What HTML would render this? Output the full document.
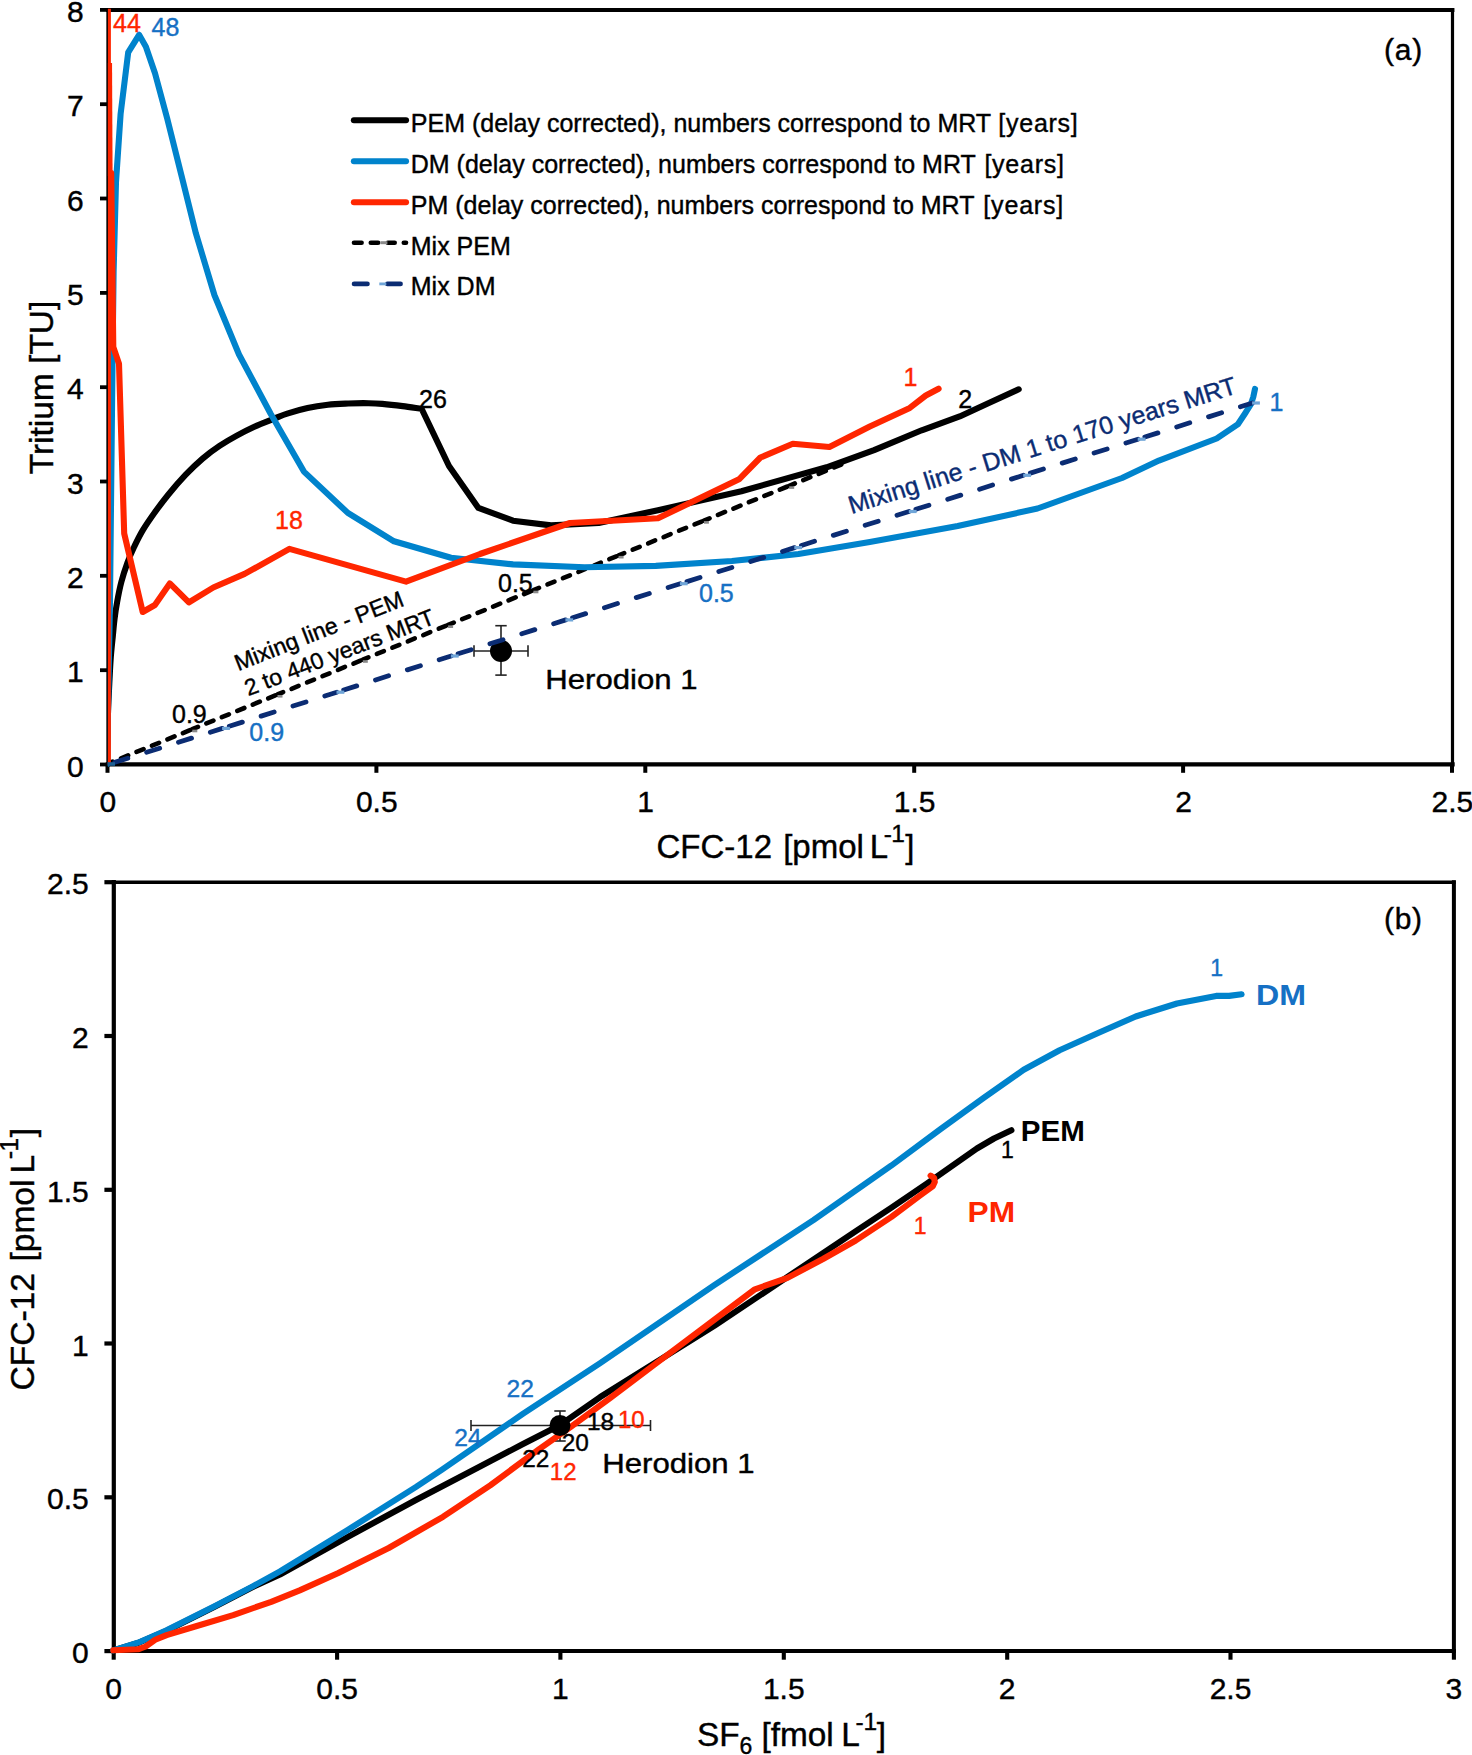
<!DOCTYPE html>
<html lang="en"><head><meta charset="utf-8"><title>Tracer plots</title>
<style>html,body{margin:0;padding:0;background:#fff}svg{display:block}text{stroke-width:0.4px}</style></head>
<body>
<svg width="1472" height="1755" viewBox="0 0 1472 1755" font-family="'Liberation Sans', Arial, sans-serif">
<rect width="1472" height="1755" fill="#fff"/>
<defs><clipPath id="clipM"><rect x="107.9" y="400" width="737" height="368"/></clipPath><clipPath id="clipA"><rect x="107.9" y="8.8" width="1346" height="760"/></clipPath></defs>
<g id="plotA">
<g stroke="#000" stroke-linecap="square">
<line x1="107.9" y1="10" x2="1452.5" y2="10" stroke-width="3.8"/>
<line x1="107.9" y1="764.4" x2="1452.5" y2="764.4" stroke-width="4.3"/>
<line x1="107.9" y1="10" x2="107.9" y2="764.7" stroke-width="3.1"/>
<line x1="1452.5" y1="10" x2="1452.5" y2="764.7" stroke-width="3.2"/>
</g>
<line x1="100" y1="764.5" x2="107.9" y2="764.5" stroke="#000" stroke-width="3.8"/>
<text x="83.6" y="776.5" font-size="30" fill="#000" stroke="#000" text-anchor="end">0</text>
<line x1="100" y1="670.2" x2="107.9" y2="670.2" stroke="#000" stroke-width="3.8"/>
<text x="83.6" y="682.2" font-size="30" fill="#000" stroke="#000" text-anchor="end">1</text>
<line x1="100" y1="575.8" x2="107.9" y2="575.8" stroke="#000" stroke-width="3.8"/>
<text x="83.6" y="587.8" font-size="30" fill="#000" stroke="#000" text-anchor="end">2</text>
<line x1="100" y1="481.5" x2="107.9" y2="481.5" stroke="#000" stroke-width="3.8"/>
<text x="83.6" y="493.5" font-size="30" fill="#000" stroke="#000" text-anchor="end">3</text>
<line x1="100" y1="387.2" x2="107.9" y2="387.2" stroke="#000" stroke-width="3.8"/>
<text x="83.6" y="399.2" font-size="30" fill="#000" stroke="#000" text-anchor="end">4</text>
<line x1="100" y1="292.9" x2="107.9" y2="292.9" stroke="#000" stroke-width="3.8"/>
<text x="83.6" y="304.9" font-size="30" fill="#000" stroke="#000" text-anchor="end">5</text>
<line x1="100" y1="198.5" x2="107.9" y2="198.5" stroke="#000" stroke-width="3.8"/>
<text x="83.6" y="210.5" font-size="30" fill="#000" stroke="#000" text-anchor="end">6</text>
<line x1="100" y1="104.2" x2="107.9" y2="104.2" stroke="#000" stroke-width="3.8"/>
<text x="83.6" y="116.2" font-size="30" fill="#000" stroke="#000" text-anchor="end">7</text>
<line x1="100" y1="9.9" x2="107.9" y2="9.9" stroke="#000" stroke-width="3.8"/>
<text x="83.6" y="21.9" font-size="30" fill="#000" stroke="#000" text-anchor="end">8</text>
<line x1="107.5" y1="764" x2="107.5" y2="772.8" stroke="#000" stroke-width="4"/>
<text x="107.9" y="811.8" font-size="30" fill="#000" stroke="#000" text-anchor="middle">0</text>
<line x1="376.4" y1="764" x2="376.4" y2="772.8" stroke="#000" stroke-width="4"/>
<text x="376.8" y="811.8" font-size="30" fill="#000" stroke="#000" text-anchor="middle">0.5</text>
<line x1="645.3" y1="764" x2="645.3" y2="772.8" stroke="#000" stroke-width="4"/>
<text x="645.7" y="811.8" font-size="30" fill="#000" stroke="#000" text-anchor="middle">1</text>
<line x1="914.2" y1="764" x2="914.2" y2="772.8" stroke="#000" stroke-width="4"/>
<text x="914.6" y="811.8" font-size="30" fill="#000" stroke="#000" text-anchor="middle">1.5</text>
<line x1="1183.1" y1="764" x2="1183.1" y2="772.8" stroke="#000" stroke-width="4"/>
<text x="1183.5" y="811.8" font-size="30" fill="#000" stroke="#000" text-anchor="middle">2</text>
<line x1="1452.0" y1="764" x2="1452.0" y2="772.8" stroke="#000" stroke-width="4"/>
<text x="1452.4" y="811.8" font-size="30" fill="#000" stroke="#000" text-anchor="middle">2.5</text>
<g clip-path="url(#clipM)">
<line x1="107.0" y1="764.0" x2="192.3" y2="729.2" stroke="#000" stroke-width="4.6" stroke-dasharray="7.6 9.1" stroke-dashoffset="1.5" stroke-linecap="round"/>
<line x1="192.3" y1="729.2" x2="277.5" y2="694.5" stroke="#000" stroke-width="4.6" stroke-dasharray="7.6 9.1" stroke-dashoffset="1.5" stroke-linecap="round"/>
<line x1="277.5" y1="694.5" x2="362.8" y2="659.7" stroke="#000" stroke-width="4.6" stroke-dasharray="7.6 9.1" stroke-dashoffset="1.5" stroke-linecap="round"/>
<line x1="362.8" y1="659.7" x2="448.1" y2="624.9" stroke="#000" stroke-width="4.6" stroke-dasharray="7.6 9.1" stroke-dashoffset="1.5" stroke-linecap="round"/>
<line x1="448.1" y1="624.9" x2="533.4" y2="590.2" stroke="#000" stroke-width="4.6" stroke-dasharray="7.6 9.1" stroke-dashoffset="1.5" stroke-linecap="round"/>
<line x1="533.4" y1="590.2" x2="618.6" y2="555.4" stroke="#000" stroke-width="4.6" stroke-dasharray="7.6 9.1" stroke-dashoffset="1.5" stroke-linecap="round"/>
<line x1="618.6" y1="555.4" x2="703.9" y2="520.6" stroke="#000" stroke-width="4.6" stroke-dasharray="7.6 9.1" stroke-dashoffset="1.5" stroke-linecap="round"/>
<line x1="703.9" y1="520.6" x2="789.2" y2="485.8" stroke="#000" stroke-width="4.6" stroke-dasharray="7.6 9.1" stroke-dashoffset="1.5" stroke-linecap="round"/>
<line x1="789.2" y1="485.8" x2="874.4" y2="451.1" stroke="#000" stroke-width="4.6" stroke-dasharray="7.6 9.1" stroke-dashoffset="1.5" stroke-linecap="round"/>
<line x1="874.4" y1="451.1" x2="959.7" y2="416.3" stroke="#000" stroke-width="4.6" stroke-dasharray="7.6 9.1" stroke-dashoffset="1.5" stroke-linecap="round"/>
<rect x="192.3" y="729.7" width="5" height="2.6" fill="#8a8a8a"/>
<rect x="277.5" y="695.0" width="5" height="2.6" fill="#8a8a8a"/>
<rect x="362.8" y="660.2" width="5" height="2.6" fill="#8a8a8a"/>
<rect x="448.1" y="625.4" width="5" height="2.6" fill="#8a8a8a"/>
<rect x="533.4" y="590.7" width="5" height="2.6" fill="#8a8a8a"/>
<rect x="618.6" y="555.9" width="5" height="2.6" fill="#8a8a8a"/>
<rect x="703.9" y="521.1" width="5" height="2.6" fill="#8a8a8a"/>
<rect x="789.2" y="486.3" width="5" height="2.6" fill="#8a8a8a"/>
<rect x="874.4" y="451.6" width="5" height="2.6" fill="#8a8a8a"/>
<rect x="959.7" y="416.8" width="5" height="2.6" fill="#8a8a8a"/>
</g>
<g clip-path="url(#clipA)">
<path d="M107.0,764.0 C107.1,756.7 107.5,732.3 107.8,720.0 C108.1,707.7 108.5,700.0 109.0,690.0 C109.5,680.0 110.0,668.9 110.6,660.0 C111.2,651.1 112.1,643.2 112.8,636.4 C113.5,629.6 113.8,625.0 114.5,619.3 C115.2,613.6 115.9,608.5 117.1,602.2 C118.2,595.9 119.7,588.2 121.4,581.7 C123.1,575.2 125.3,568.7 127.4,562.9 C129.5,557.1 131.6,552.1 134.2,546.7 C136.8,541.3 139.3,536.1 142.7,530.4 C146.1,524.7 150.4,518.5 154.7,512.5 C159.0,506.5 163.3,500.8 168.4,494.5 C173.5,488.2 179.8,480.9 185.5,474.9 C191.2,468.9 196.9,463.5 202.6,458.6 C208.3,453.8 214.0,449.6 219.7,445.8 C225.4,442.0 231.1,438.7 236.8,435.6 C242.5,432.5 247.7,429.8 253.8,427.0 C259.9,424.2 268.0,421.1 273.6,418.9 C279.2,416.7 281.5,415.4 287.2,413.6 C292.9,411.8 300.8,409.6 307.6,408.1 C314.4,406.6 321.1,405.6 327.9,404.8 C334.7,404.0 341.5,403.8 348.3,403.5 C355.1,403.2 363.0,403.1 368.7,403.2 C374.4,403.3 376.6,403.4 382.3,403.9 C388.0,404.4 396.1,405.3 402.7,406.1 C409.2,406.9 418.5,408.4 421.6,408.8 L449.0,466.0 L478.4,507.9 L513.0,520.7 L551.0,525.4 L598.7,523.0 L658.0,510.2 L741.4,491.2 L826.6,467.3 L874.1,450.1 L921.7,430.3 L959.7,416.4 L988.3,403.3 L1018.7,389.3" fill="none" stroke="#000" stroke-width="6.1" stroke-linejoin="round" stroke-linecap="round"/>
<polyline points="107.0,764.0 110.0,600.0 112.6,353.0 113.6,272.0 116.0,182.0 120.6,114.0 128.2,52.4 139.1,34.8 145.9,46.8 155.0,73.2 167.2,118.5 181.6,176.0 195.9,233.4 214.4,295.0 239.0,354.5 270.5,413.5 303.9,471.6 347.8,512.9 394.0,541.3 451.0,557.8 513.0,564.4 584.5,567.3 655.8,565.9 731.9,561.0 798.4,554.0 869.8,542.0 957.7,526.0 1037.5,508.5 1122.0,478.0 1158.9,460.6 1216.7,438.5 1237.9,424.2 1245.2,413.2 1250.9,404.2 1253.3,396.9 1255.0,388.9" fill="none" stroke="#0083cc" stroke-width="6.1" stroke-linejoin="round" stroke-linecap="round" />
<line x1="107.85" y1="0" x2="107.85" y2="764" stroke="#ff2600" stroke-width="6.1"/>
<line x1="109" y1="63" x2="109.55" y2="176" stroke="#ff2600" stroke-width="6.1"/>
<polyline points="111.2,173.0 113.3,347.0 119.0,363.7 124.2,533.5 142.7,612.0 154.9,605.0 169.8,583.4 188.9,602.4 213.3,587.5 244.6,573.9 289.4,548.9 406.0,581.6 479.9,554.0 570.0,523.0 658.0,518.3 739.0,479.3 760.4,457.5 792.8,443.7 829.4,447.0 869.8,426.5 909.8,407.9 925.8,395.5 938.6,388.7" fill="none" stroke="#ff2600" stroke-width="6.1" stroke-linejoin="round" stroke-linecap="round" />
</g>
<text transform="translate(53.3,387.5) rotate(-90)" font-size="33.5" fill="#000" stroke="#000" text-anchor="middle">Tritium [TU]</text>
<g transform="translate(658,857.8)">
<text x="-1.5" y="0" font-size="33" fill="#000" stroke="#000" >CFC-12</text>
<text x="125.2" y="0" font-size="33" fill="#000" stroke="#000" >[pmol</text>
<text x="211.8" y="0" font-size="33" fill="#000" stroke="#000" >L</text>
<text x="225.7" y="-15.8" font-size="24.5" fill="#000" stroke="#000" >-</text>
<text x="233.2" y="-15.8" font-size="24.5" fill="#000" stroke="#000" >1</text>
<text x="247.3" y="0" font-size="33" fill="#000" stroke="#000" >]</text>
</g>
<text x="1384" y="60.2" font-size="30" fill="#000" stroke="#000" textLength="38.2" lengthAdjust="spacing">(a)</text>
<line x1="353.9" y1="120.2" x2="406" y2="120.2" stroke="#000" stroke-width="6.1" stroke-linecap="round"/>
<text x="410.8" y="132" font-size="25" fill="#000" stroke="#000" >PEM (delay corrected), numbers correspond to MRT</text>
<text x="998.3" y="132" font-size="25" fill="#000" stroke="#000" textLength="79.5" lengthAdjust="spacing">[years]</text>
<line x1="353.9" y1="161.2" x2="406" y2="161.2" stroke="#0083cc" stroke-width="6.1" stroke-linecap="round"/>
<text x="410.8" y="173.2" font-size="25" fill="#000" stroke="#000" >DM (delay corrected), numbers correspond to MRT</text>
<text x="984.4" y="173.2" font-size="25" fill="#000" stroke="#000" textLength="79.6" lengthAdjust="spacing">[years]</text>
<line x1="353.9" y1="202.2" x2="406" y2="202.2" stroke="#ff2600" stroke-width="6.1" stroke-linecap="round"/>
<text x="410.8" y="214" font-size="25" fill="#000" stroke="#000" >PM (delay corrected), numbers correspond to MRT</text>
<text x="983.3" y="214" font-size="25" fill="#000" stroke="#000" textLength="80" lengthAdjust="spacing">[years]</text>
<line x1="354.0" y1="242.7" x2="361.6" y2="242.7" stroke="#000" stroke-width="4.6" stroke-linecap="round"/>
<line x1="370.8" y1="242.7" x2="378.1" y2="242.7" stroke="#000" stroke-width="4.6" stroke-linecap="round"/>
<line x1="387.8" y1="242.7" x2="394.7" y2="242.7" stroke="#000" stroke-width="4.6" stroke-linecap="round"/>
<line x1="403.8" y1="242.7" x2="406.0" y2="242.7" stroke="#000" stroke-width="4.6" stroke-linecap="round"/>
<rect x="380.4" y="241.2" width="7" height="3" fill="#8a8a8a"/>
<text x="410.8" y="254.6" font-size="25" fill="#000" stroke="#000" >Mix PEM</text>
<line x1="354.1" y1="283.9" x2="367.4" y2="283.9" stroke="#0b2c73" stroke-width="4.8" stroke-linecap="round"/>
<line x1="387.4" y1="283.9" x2="400.5" y2="283.9" stroke="#0b2c73" stroke-width="4.8" stroke-linecap="round"/>
<rect x="379.3" y="282.5" width="7" height="2.8" fill="#6fa5d8"/>
<text x="410.8" y="295.3" font-size="25" fill="#000" stroke="#000" >Mix DM</text>
<text x="113" y="31.6" font-size="25" fill="#ff2600" stroke="#ff2600" >44</text>
<text x="151.5" y="36" font-size="25" fill="#1670c4" stroke="#1670c4" >48</text>
<text x="419" y="407.5" font-size="25" fill="#000" stroke="#000" >26</text>
<text x="958.3" y="408" font-size="25" fill="#000" stroke="#000" >2</text>
<text x="903.5" y="385.5" font-size="25" fill="#ff2600" stroke="#ff2600" >1</text>
<text x="1269.5" y="411" font-size="25" fill="#1670c4" stroke="#1670c4" >1</text>
<text x="275" y="528.5" font-size="25" fill="#ff2600" stroke="#ff2600" >18</text>
<text x="498" y="591.5" font-size="25" fill="#000" stroke="#000" >0.5</text>
<text x="699" y="602" font-size="25" fill="#1670c4" stroke="#1670c4" >0.5</text>
<text x="172" y="722.5" font-size="25" fill="#000" stroke="#000" >0.9</text>
<text x="249.3" y="741.4" font-size="25" fill="#1670c4" stroke="#1670c4" >0.9</text>
<text transform="translate(238.2,671.2) rotate(-21.5)" font-size="23.1" fill="#000" stroke="#000" >Mixing line - PEM</text>
<text transform="translate(248.2,696.2) rotate(-21.2)" font-size="23.0" fill="#000" stroke="#000" >2 to 440 years MRT</text>
<text transform="translate(851.5,514) rotate(-17.4)" font-size="25.0" fill="#0b2c73" stroke="#0b2c73" >Mixing line - DM 1 to 170 years MRT</text>
<g stroke="#222" stroke-width="1.6"><line x1="474" y1="651" x2="528" y2="651"/><line x1="474" y1="645.3" x2="474" y2="656.7"/><line x1="528" y1="645.3" x2="528" y2="656.7"/><line x1="501" y1="625.7" x2="501" y2="675.1"/><line x1="495.3" y1="625.7" x2="506.7" y2="625.7"/><line x1="495.3" y1="675.1" x2="506.7" y2="675.1"/></g>
<circle cx="501" cy="651" r="11" fill="#000"/>
<g clip-path="url(#clipA)">
<line x1="107.9" y1="764.5" x2="222.4" y2="728.4" stroke="#0b2c73" stroke-width="4.8" stroke-dasharray="13.7 19.7" stroke-dashoffset="-7.2" stroke-linecap="round"/>
<line x1="222.4" y1="728.4" x2="336.8" y2="692.2" stroke="#0b2c73" stroke-width="4.8" stroke-dasharray="13.7 19.7" stroke-dashoffset="-7.2" stroke-linecap="round"/>
<line x1="336.8" y1="692.2" x2="451.2" y2="656.0" stroke="#0b2c73" stroke-width="4.8" stroke-dasharray="13.7 19.7" stroke-dashoffset="-7.2" stroke-linecap="round"/>
<line x1="451.2" y1="656.0" x2="565.7" y2="619.9" stroke="#0b2c73" stroke-width="4.8" stroke-dasharray="13.7 19.7" stroke-dashoffset="-7.2" stroke-linecap="round"/>
<line x1="565.7" y1="619.9" x2="680.1" y2="583.8" stroke="#0b2c73" stroke-width="4.8" stroke-dasharray="13.7 19.7" stroke-dashoffset="-7.2" stroke-linecap="round"/>
<line x1="680.1" y1="583.8" x2="794.6" y2="547.6" stroke="#0b2c73" stroke-width="4.8" stroke-dasharray="13.7 19.7" stroke-dashoffset="-7.2" stroke-linecap="round"/>
<line x1="794.6" y1="547.6" x2="909.0" y2="511.5" stroke="#0b2c73" stroke-width="4.8" stroke-dasharray="13.7 19.7" stroke-dashoffset="-7.2" stroke-linecap="round"/>
<line x1="909.0" y1="511.5" x2="1023.5" y2="475.3" stroke="#0b2c73" stroke-width="4.8" stroke-dasharray="13.7 19.7" stroke-dashoffset="-7.2" stroke-linecap="round"/>
<line x1="1023.5" y1="475.3" x2="1138.0" y2="439.2" stroke="#0b2c73" stroke-width="4.8" stroke-dasharray="13.7 19.7" stroke-dashoffset="-7.2" stroke-linecap="round"/>
<line x1="1138.0" y1="439.2" x2="1252.4" y2="403.0" stroke="#0b2c73" stroke-width="4.8" stroke-dasharray="13.7 19.7" stroke-dashoffset="-7.2" stroke-linecap="round"/>
<rect x="222.1" y="726.8" width="7.8" height="3.2" fill="#6fa5d8"/>
<rect x="336.5" y="690.6" width="7.8" height="3.2" fill="#6fa5d8"/>
<rect x="450.9" y="654.4" width="7.8" height="3.2" fill="#6fa5d8"/>
<rect x="565.4" y="618.3" width="7.8" height="3.2" fill="#6fa5d8"/>
<rect x="679.9" y="582.1" width="7.8" height="3.2" fill="#6fa5d8"/>
<rect x="794.3" y="546.0" width="7.8" height="3.2" fill="#6fa5d8"/>
<rect x="908.8" y="509.9" width="7.8" height="3.2" fill="#6fa5d8"/>
<rect x="1023.2" y="473.7" width="7.8" height="3.2" fill="#6fa5d8"/>
<rect x="1137.7" y="437.6" width="7.8" height="3.2" fill="#6fa5d8"/>
<rect x="1252.1" y="401.4" width="7.8" height="3.2" fill="#6fa5d8"/>
</g>
<rect x="107.5" y="762.2" width="7.5" height="3.6" fill="#1c5f93"/>
<text x="545.3" y="689.4" font-size="28.5" fill="#000" stroke="#000" textLength="152.3" lengthAdjust="spacingAndGlyphs">Herodion 1</text>
</g>
<g id="plotB">
<g stroke="#000" stroke-linecap="square">
<line x1="113.8" y1="882.2" x2="1453.9" y2="882.2" stroke-width="3.5"/>
<line x1="113.8" y1="1651.1" x2="1453.9" y2="1651.1" stroke-width="4"/>
<line x1="113.8" y1="882.2" x2="113.8" y2="1651.1" stroke-width="4.2"/>
<line x1="1453.9" y1="882.2" x2="1453.9" y2="1651.1" stroke-width="4"/>
</g>
<line x1="104.4" y1="1651.1" x2="114" y2="1651.1" stroke="#000" stroke-width="4.2"/>
<text x="88.7" y="1663.2" font-size="30" fill="#000" stroke="#000" text-anchor="end">0</text>
<line x1="104.4" y1="1497.3" x2="114" y2="1497.3" stroke="#000" stroke-width="4.2"/>
<text x="88.7" y="1509.4" font-size="30" fill="#000" stroke="#000" text-anchor="end">0.5</text>
<line x1="104.4" y1="1343.5" x2="114" y2="1343.5" stroke="#000" stroke-width="4.2"/>
<text x="88.7" y="1355.6" font-size="30" fill="#000" stroke="#000" text-anchor="end">1</text>
<line x1="104.4" y1="1189.8" x2="114" y2="1189.8" stroke="#000" stroke-width="4.2"/>
<text x="88.7" y="1201.9" font-size="30" fill="#000" stroke="#000" text-anchor="end">1.5</text>
<line x1="104.4" y1="1036.0" x2="114" y2="1036.0" stroke="#000" stroke-width="4.2"/>
<text x="88.7" y="1048.1" font-size="30" fill="#000" stroke="#000" text-anchor="end">2</text>
<line x1="104.4" y1="882.2" x2="114" y2="882.2" stroke="#000" stroke-width="4.2"/>
<text x="88.7" y="894.3" font-size="30" fill="#000" stroke="#000" text-anchor="end">2.5</text>
<line x1="113.7" y1="1651" x2="113.7" y2="1659.7" stroke="#000" stroke-width="4.1"/>
<text x="113.7" y="1698.6" font-size="30" fill="#000" stroke="#000" text-anchor="middle">0</text>
<line x1="337.1" y1="1651" x2="337.1" y2="1659.7" stroke="#000" stroke-width="4.1"/>
<text x="337.1" y="1698.6" font-size="30" fill="#000" stroke="#000" text-anchor="middle">0.5</text>
<line x1="560.4" y1="1651" x2="560.4" y2="1659.7" stroke="#000" stroke-width="4.1"/>
<text x="560.4" y="1698.6" font-size="30" fill="#000" stroke="#000" text-anchor="middle">1</text>
<line x1="783.8" y1="1651" x2="783.8" y2="1659.7" stroke="#000" stroke-width="4.1"/>
<text x="783.8" y="1698.6" font-size="30" fill="#000" stroke="#000" text-anchor="middle">1.5</text>
<line x1="1007.2" y1="1651" x2="1007.2" y2="1659.7" stroke="#000" stroke-width="4.1"/>
<text x="1007.2" y="1698.6" font-size="30" fill="#000" stroke="#000" text-anchor="middle">2</text>
<line x1="1230.5" y1="1651" x2="1230.5" y2="1659.7" stroke="#000" stroke-width="4.1"/>
<text x="1230.5" y="1698.6" font-size="30" fill="#000" stroke="#000" text-anchor="middle">2.5</text>
<line x1="1453.9" y1="1651" x2="1453.9" y2="1659.7" stroke="#000" stroke-width="4.1"/>
<text x="1453.9" y="1698.6" font-size="30" fill="#000" stroke="#000" text-anchor="middle">3</text>
<g stroke="#222" stroke-width="1.6"><line x1="471" y1="1425.5" x2="650.5" y2="1425.5"/><line x1="471" y1="1420" x2="471" y2="1431"/><line x1="650.5" y1="1420" x2="650.5" y2="1431"/><line x1="560" y1="1411" x2="560" y2="1441"/><line x1="554.3" y1="1411" x2="565.7" y2="1411"/><line x1="554.3" y1="1441" x2="565.7" y2="1441"/></g>
<polyline points="113.3,1650.3 138.0,1643.0 166.6,1630.8 214.1,1607.0 252.2,1587.3 280.0,1574.5 347.9,1536.8 415.9,1500.0 480.0,1466.5 523.0,1444.0 559.7,1425.2 600.0,1397.2 714.1,1326.0 855.7,1231.3 891.3,1207.7 927.0,1183.5 948.4,1168.5 976.9,1148.5 994.0,1138.5 1011.4,1130.2" fill="none" stroke="#000" stroke-width="6.1" stroke-linejoin="round" stroke-linecap="round" />
<polyline points="113.3,1650.3 138.0,1642.7 166.6,1630.3 214.1,1606.5 252.2,1586.6 280.0,1571.4 347.9,1529.8 415.9,1487.0 441.5,1470.0 523.0,1413.8 600.0,1363.3 714.1,1285.2 813.6,1220.0 891.3,1165.6 940.0,1129.5 983.5,1098.0 1023.7,1069.8 1059.6,1050.2 1098.7,1032.8 1135.7,1016.5 1177.0,1003.5 1216.1,995.9 1229.1,995.9 1241.6,994.3" fill="none" stroke="#0083cc" stroke-width="6.1" stroke-linejoin="round" stroke-linecap="round" />
<polyline points="113.3,1650.3 138.0,1649.3 145.7,1646.5 155.2,1639.8 166.6,1635.1 195.1,1626.5 233.2,1615.1 271.2,1601.8 299.7,1590.4 337.8,1573.2 388.7,1548.0 443.0,1516.8 490.4,1485.2 539.4,1448.9 572.0,1426.0 610.2,1398.0 653.8,1365.1 706.0,1326.0 754.9,1289.3 787.5,1277.9 823.0,1259.0 855.7,1240.5 891.3,1217.0 919.9,1195.6 932.7,1186.3 934.8,1182.0 934.1,1177.8 930.6,1175.6" fill="none" stroke="#ff2600" stroke-width="6.1" stroke-linejoin="round" stroke-linecap="round" />
<g transform="translate(34.1,1389.1) rotate(-90)">
<text x="-1.5272727272727273" y="0" font-size="33.6" fill="#000" stroke="#000" >CFC-12</text>
<text x="127.5" y="0" font-size="33.6" fill="#000" stroke="#000" >[pmol</text>
<text x="215.7" y="0" font-size="33.6" fill="#000" stroke="#000" >L</text>
<text x="229.8" y="-16.1" font-size="24.94545454545455" fill="#000" stroke="#000" >-</text>
<text x="237.4" y="-16.1" font-size="24.94545454545455" fill="#000" stroke="#000" >1</text>
<text x="251.8" y="0" font-size="33.6" fill="#000" stroke="#000" >]</text>
</g>
<text x="697" y="1746" font-size="33.4" fill="#000" stroke="#000" >SF</text>
<text x="739.6" y="1753.6" font-size="23" fill="#000" stroke="#000" >6</text>
<text x="761.4" y="1746" font-size="33.4" fill="#000" stroke="#000" >[fmol</text>
<text x="841.2" y="1746" font-size="33.4" fill="#000" stroke="#000" >L</text>
<text x="855.4" y="1729.9" font-size="24.5" fill="#000" stroke="#000" >-</text>
<text x="863.4" y="1729.9" font-size="24.5" fill="#000" stroke="#000" >1</text>
<text x="876.7" y="1746" font-size="33.4" fill="#000" stroke="#000" >]</text>
<text x="1383.9" y="929.1" font-size="30" fill="#000" stroke="#000" textLength="38.2" lengthAdjust="spacing">(b)</text>
<circle cx="560" cy="1425.5" r="10.5" fill="#000"/>
<text x="602.2" y="1472.9" font-size="28.5" fill="#000" stroke="#000" textLength="152.5" lengthAdjust="spacingAndGlyphs">Herodion 1</text>
<text x="506.5" y="1397" font-size="24.6" fill="#1670c4" stroke="#1670c4" >22</text>
<text x="454.3" y="1446" font-size="24.6" fill="#1670c4" stroke="#1670c4" >24</text>
<text x="522.2" y="1466.8" font-size="24.4" fill="#000" stroke="#000" >22</text>
<text x="561.7" y="1451" font-size="24.4" fill="#000" stroke="#000" >20</text>
<text x="587" y="1430" font-size="24.4" fill="#000" stroke="#000" >18</text>
<text x="618" y="1427.8" font-size="24" fill="#ff2600" stroke="#ff2600" >10</text>
<text x="549.8" y="1479.5" font-size="24" fill="#ff2600" stroke="#ff2600" >12</text>
<text x="1210.3" y="976" font-size="23" fill="#1670c4" stroke="#1670c4" >1</text>
<text x="1001" y="1157.7" font-size="23" fill="#000" stroke="#000" >1</text>
<text x="913.8" y="1234.2" font-size="23" fill="#ff2600" stroke="#ff2600" >1</text>
<text x="1256" y="1004.8" font-size="30" fill="#1670c4" stroke="#1670c4" font-weight="bold" textLength="50" lengthAdjust="spacingAndGlyphs" style="stroke-width:0">DM</text>
<text x="1020.8" y="1140.8" font-size="30" fill="#000" stroke="#000" font-weight="bold" textLength="64" lengthAdjust="spacingAndGlyphs" style="stroke-width:0">PEM</text>
<text x="967.6" y="1221.5" font-size="30" fill="#ff2600" stroke="#ff2600" font-weight="bold" textLength="47.5" lengthAdjust="spacingAndGlyphs" style="stroke-width:0">PM</text>
</g>
</svg>
</body></html>
